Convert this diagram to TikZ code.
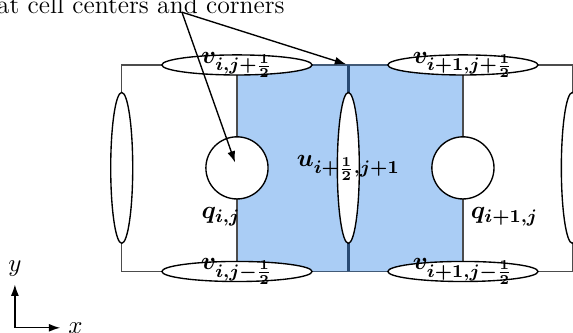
\documentclass[tikz,border=0pt]{standalone}
\usepackage{amsmath}
\usepackage{amssymb}
\usepackage{tikz}
\usetikzlibrary{shapes.geometric,arrows.meta,positioning,calc}
\usepackage{xcolor}
\definecolor{cellblue}{RGB}{170,205,245}
\definecolor{edgeblue}{RGB}{40,74,115}
\tikzset{
    hface/.style={ellipse, draw, fill=white, line width=0.6pt, minimum width=2.32cm, minimum height=0.31cm, inner sep=0pt},
    vface/.style={ellipse, draw, fill=white, line width=0.6pt, minimum width=0.34cm, minimum height=2.33cm, inner sep=0pt},
    cent/.style={circle, draw, fill=white, line width=0.6pt, minimum size=0.96cm, inner sep=0pt},
    cellline/.style={gray!60!black, line width=0.6pt},
    pointer/.style={-{Latex[length=5pt,width=3.5pt]}, line width=0.6pt},
}

\begin{document}
\begin{tikzpicture}[font=\fontsize{11.3}{13}\selectfont]
    \useasboundingbox (0,0) rectangle (8.85,5.143);
    % Grid positions
    \def\xl{1.88}
    \def\xc{3.66}
    \def\xm{5.38}
    \def\xe{7.15}
    \def\xr{8.84}
    \def\yb{0.95}
    \def\yt{4.14}
    \def\ym{2.55}

    % Shaded staggered cell
    \fill[cellblue] (\xc,\yb) rectangle (\xe,\yt);

    % Cell edges
    \draw[cellline] (\xl,\yb) rectangle (\xr,\yt);
    \draw[cellline] (\xc,\yb) -- (\xc,\yt);
    \draw[cellline] (\xe,\yb) -- (\xe,\yt);
    \draw[edgeblue!70!gray, line width=0.7pt] (\xc,\yt) -- (\xe,\yt);
    \draw[edgeblue!70!gray, line width=0.7pt] (\xc,\yb) -- (\xe,\yb);
    \draw[edgeblue, line width=1.2pt] (\xm,\yb) coordinate (mbot) -- (\xm,\yt) coordinate (mtop);

    % Faces
    \node[vface] (uW) at (\xl,\ym) {};
    \node[vface] (uM) at (\xm,\ym) {};
    \node[vface] (uE) at (\xr,\ym) {};
    \node[hface] (vNW) at (\xc,\yt) {};
    \node[hface] (vNE) at (\xe,\yt) {};
    \node[hface] (vSW) at (\xc,\yb) {};
    \node[hface] (vSE) at (\xe,\yb) {};

    % Cell centres
    \node[cent] (qC) at (\xc,\ym) {};
    \node[cent] (qE) at (\xe,\ym) {};

    % Labels
    \node (uMl) at (uM) {$\boldsymbol{u_{i+\frac12,j+1}}$};
    \node (vNWl) at (vNW) {$\boldsymbol{v_{i,j+\frac12}}$};
    \node (vNEl) at (vNE) {$\boldsymbol{v_{i+1,j+\frac12}}$};
    \node (vSWl) at (vSW) {$\boldsymbol{v_{i,j-\frac12}}$};
    \node (vSEl) at (vSE) {$\boldsymbol{v_{i+1,j-\frac12}}$};
    \node[anchor=north east, xshift=5pt] (qCl) at (qC.south) {$\boldsymbol{q_{i,j}}$};
    \node[anchor=north west] (qEl) at (qE.south) {$\boldsymbol{q_{i+1,j}}$};

    % Note with pointers
    \node[anchor=base east] (note) at (4.52,4.94) {at cell centers and corners};
    \coordinate (from) at (2.81,4.955);
    \draw[pointer, shorten >=2.5pt] (from) -- (qC.center);
    \draw[pointer, shorten >=1pt] (from) -- (mtop);

    % Axes
    \coordinate (O) at (0.23,0.08);
    \coordinate (ax) at (0.93,0.08);
    \coordinate (ay) at (0.23,0.75);
    \draw[pointer] (O) -- (ax);
    \draw[pointer] (O) -- (ay);
    \node[right] (xl) at (ax) {$x$};
    \node[above] (yl) at (ay) {$y$};
\end{tikzpicture}
\end{document}
